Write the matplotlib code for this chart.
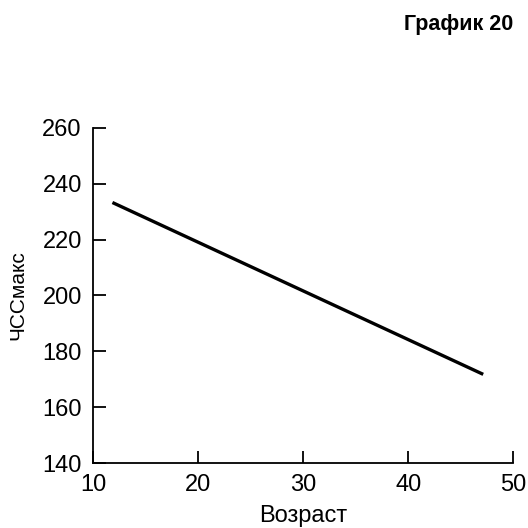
import matplotlib
matplotlib.use("Agg")
import matplotlib.pyplot as plt

age = [12, 47]
hr_max = [233, 172]
xticks = [10, 20, 30, 40, 50]
yticks = [140, 160, 180, 200, 220, 240, 260]

plt.rcParams['font.family'] = ['Liberation Sans', 'DejaVu Sans']

fig = plt.figure(figsize=(5.28, 5.28), dpi=100)
ax = fig.add_axes([0.176, 0.123, 0.796, 0.635])
ax.plot(age, hr_max, color='black', lw=2.4)
ax.set_xlim(10, 50)
ax.set_ylim(140, 260)
ax.set_xticks(xticks)
ax.set_yticks(yticks)
for s in ['top', 'right']:
    ax.spines[s].set_visible(False)
for s in ['left', 'bottom']:
    ax.spines[s].set_linewidth(1.3)
ax.tick_params(direction='in', length=9, width=1.3, labelsize=17, pad=8)
ax.set_xlabel('Возраст', fontsize=17, labelpad=6)
ax.set_ylabel('ЧССмакс', fontsize=15, labelpad=11)
fig.text(0.972, 0.943, 'График 20', ha='right', va='baseline', fontsize=15.5, fontweight='bold')
fig.savefig('out.png', dpi=100)
